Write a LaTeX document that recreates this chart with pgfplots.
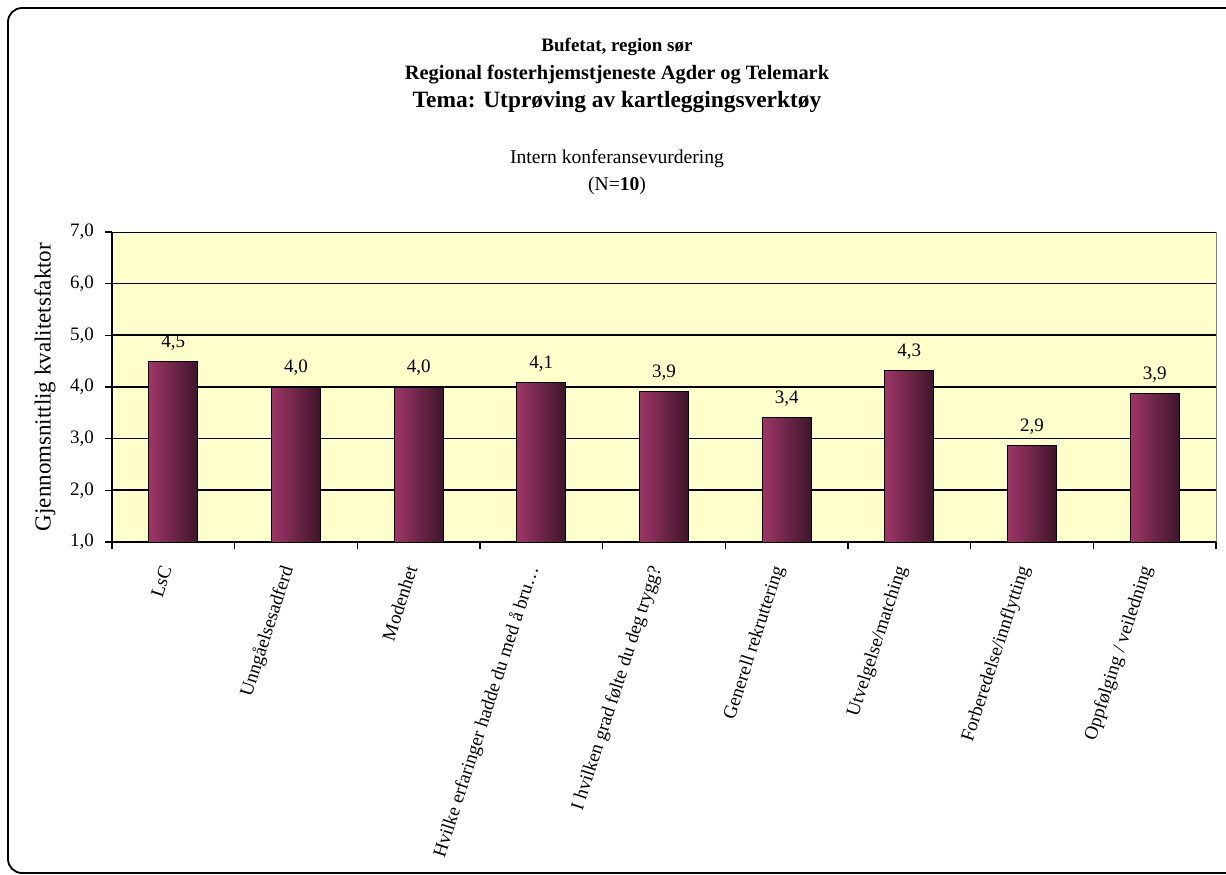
\documentclass[border=0pt]{standalone}
\usepackage{fontspec}
\setmainfont{Liberation Serif}
\usepackage{pgfplots}
\pgfplotsset{compat=1.18}

\definecolor{bgyellow}{HTML}{FFFFCC}
\definecolor{barL}{HTML}{9E3668}
\definecolor{barR}{HTML}{3E1529}
\newcommand{\lbl}{\fontsize{9.5}{11.4}\selectfont}

\pgfplotsset{mybar/.style={ybar, bar width=24.5pt, draw=black, line width=0.5pt,
    left color=barL, right color=barR}}

\begin{document}
\begin{tikzpicture}[x=0.5pt,y=0.5pt]
\useasboundingbox (0,0) rectangle (1226,874);
\draw[line width=0.9pt, rounded corners=7pt] (8,1) rectangle (1244,866);

% titles
\node[font=\bfseries\fontsize{9.5}{11}\selectfont] at (617,827) {Bufetat, region sør};
\node[font=\bfseries\fontsize{10.2}{12}\selectfont] at (617,799) {Regional fosterhjemstjeneste Agder og Telemark};
\node[font=\bfseries\fontsize{11.7}{13}\selectfont] at (617,772) {Tema: Utprøving av kartleggingsverktøy};
\node[font=\fontsize{9.8}{11.5}\selectfont] at (617,715) {Intern konferansevurdering};
\node[font=\fontsize{9.8}{11.5}\selectfont] at (617,688) {(N=\textbf{10})};

\begin{axis}[
    at={(56pt,166pt)}, anchor=south west,
    scale only axis, width=552pt, height=155pt,
    xmin=-0.5, xmax=8.5, ymin=1, ymax=7,
    axis background/.style={fill=bgyellow, draw=gray},
    axis x line*=bottom, axis y line*=left,
    axis line style={-, black, line width=0.6pt},
    ytick={1,2,...,7},
    ymajorgrids, grid style={black, line width=0.5pt},
    extra y ticks={2,4,5}, extra y tick labels={},
    extra y tick style={grid style={black, line width=1pt}},
    tick align=outside, major tick length=3.5pt, minor tick length=3.5pt,
    tick style={black, line width=0.6pt},
    xtick={0,...,8},
    major x tick style={draw=none},
    minor xtick={-0.5,0.5,...,8.5},
    minor x tick style={black, line width=0.6pt},
    xticklabels={
        {LsC},
        {Unngåelsesadferd},
        {Modenhet},
        {Hvilke erfaringer hadde du med å bru\ldots},
        {I hvilken grad følte du deg trygg?},
        {Generell rekruttering},
        {Utvelgelse/matching},
        {Forberedelse/innflytting},
        {Oppfølging / veiledning}},
    xticklabel style={font=\lbl, xshift=-2.5pt, yshift=-5.5pt, rotate=72, anchor=east},
    yticklabel style={font=\lbl, xshift=-2pt},
    /pgf/number format/.cd, fixed, fixed zerofill, precision=1, use comma, assume math mode=true,
    /pgfplots/.cd,
    ylabel={Gjennomsnittlig kvalitetsfaktor},
    ylabel style={font=\fontsize{11.5}{13}\selectfont, at={(axis description cs:-0.0607,0.5)}, anchor=center},
    nodes near coords,
    nodes near coords style={font=\lbl, anchor=south, yshift=2pt, black},
]
\addplot[mybar] coordinates {(0,4.50)};
\addplot[mybar] coordinates {(1,4.00)};
\addplot[mybar] coordinates {(2,4.00)};
\addplot[mybar] coordinates {(3,4.09)};
\addplot[mybar] coordinates {(4,3.92)};
\addplot[mybar] coordinates {(5,3.41)};
\addplot[mybar] coordinates {(6,4.32)};
\addplot[mybar] coordinates {(7,2.86)};
\addplot[mybar] coordinates {(8,3.88)};
\end{axis}
\end{tikzpicture}
\end{document}
